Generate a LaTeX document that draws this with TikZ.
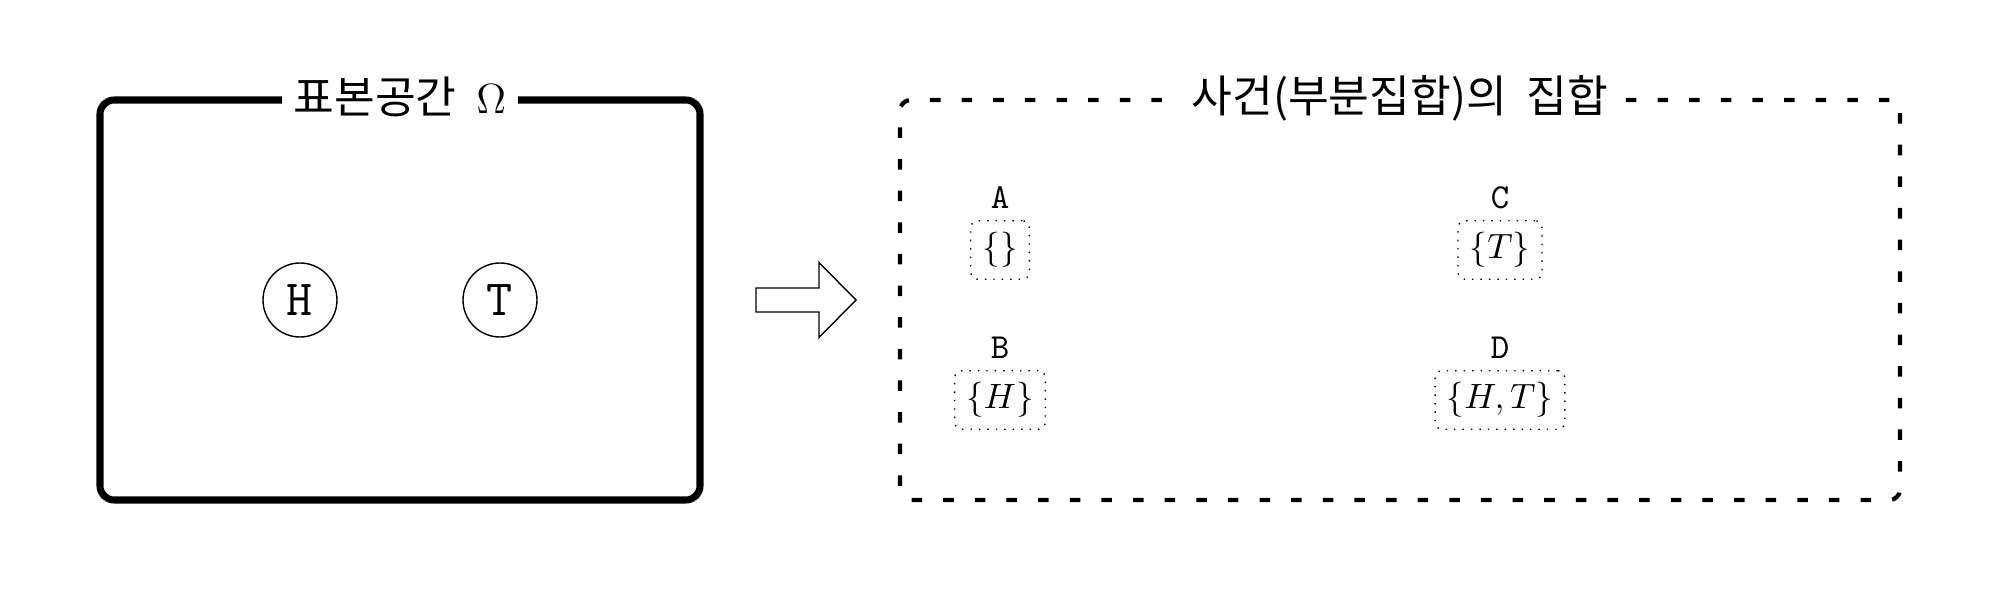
\documentclass[tikz,border=0pt]{standalone}
\usepackage{amsmath,amssymb}
\usepackage{fontspec}
\usepackage{tikz}
\usetikzlibrary{shapes,arrows,positioning,calc}
\newfontfamily\kr[Scale=1.05,WordSpace=2.0]{Noto Sans CJK KR}

\begin{document}
\begin{tikzpicture}[
    spacebox/.style={draw, line width=2pt, rounded corners=4pt, minimum width=6cm, minimum height=4cm},
    eventbox/.style={draw, very thick, loosely dashed, rounded corners=3pt, minimum width=10cm, minimum height=4cm},
    boxtitle/.style={fill=white, font=\large},
    outcome/.style={draw, circle, minimum size=0.74cm, inner sep=0pt, font=\Large\ttfamily},
    subset/.style={draw, dotted, rounded corners=2pt},
    setname/.style={font=\ttfamily, inner sep=1pt},
]
    \useasboundingbox (0,0) rectangle (20,6);
    \node[spacebox] (omega) at (4,3) {};
    \node[boxtitle] (omegatitle) at (omega.north) {\kr 표본공간 $\Omega$};
    \node[outcome] (h) at (3,3) {H};
    \node[outcome] (t) at (5,3) {T};
    \draw (7.56,2.88) -- (8.19,2.88) -- (8.19,2.625) -- (8.56,3) -- (8.19,3.375) -- (8.19,3.12) -- (7.56,3.12) -- cycle;
    \node[eventbox] (events) at (14,3) {};
    \node[boxtitle] (eventstitle) at (events.north) {\kr 사건(부분집합)의 집합};
    \node[subset] (a) at (10,3.5) {$\{\}$};
    \node[setname, above=2pt of a] (aname) {A};
    \node[subset] (b) at (10,2) {$\{H\}$};
    \node[setname, above=2pt of b] (bname) {B};
    \node[subset] (c) at (15,3.5) {$\{T\}$};
    \node[setname, above=2pt of c] (cname) {C};
    \node[subset] (d) at (15,2) {$\{H,T\}$};
    \node[setname, above=2pt of d] (dname) {D};
\end{tikzpicture}
\end{document}
